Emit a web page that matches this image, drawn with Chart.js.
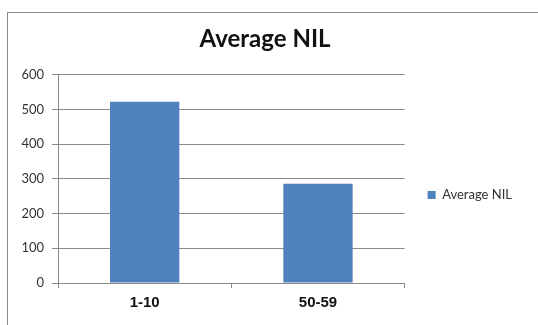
<!DOCTYPE html>
<html>
<head>
<meta charset="utf-8">
<script src="https://cdn.jsdelivr.net/npm/chart.js@4/dist/chart.umd.min.js"></script>
<style>
  html, body { margin: 0; padding: 0; background: #fff; }
  #wrap { position: relative; width: 538px; height: 325px; }
</style>
</head>
<body>
<div id="wrap"><canvas id="nilChart" width="538" height="325"></canvas></div>
<script>
var categories = ['1-10', '50-59'];
var averageNil = [522, 286];
var yTicks = [0, 100, 200, 300, 400, 500, 600];

var gridGray = '#8a8a8a';

// white sheet with the grey frame around the chart
var framePlugin = {
    id: 'frame',
    beforeDraw: function (chart) {
        var c = chart.ctx;
        c.save();
        c.fillStyle = '#fff';
        c.fillRect(0, 0, chart.width, chart.height);
        c.strokeStyle = '#8c8c8c';
        c.lineWidth = 1;
        c.strokeRect(7.5, 12.5, chart.width + 20, chart.height + 20);
        c.restore();
    }
};

var ctx = document.getElementById('nilChart').getContext('2d');
var myChart = new Chart(ctx, {
    type: 'bar',
    data: {
        labels: categories,
        datasets: [{
            label: 'Average NIL',
            data: averageNil,
            backgroundColor: '#4f81bd',
            borderWidth: 0,
            barPercentage: 1.0,
            categoryPercentage: 0.4
        }]
    },
    plugins: [framePlugin],
    options: {
        responsive: false,
        animation: false,
        layout: { padding: { left: 8, right: 16, top: 0, bottom: 7 } },
        plugins: {
            title: {
                display: true,
                text: 'Average NIL',
                color: '#111',
                font: { family: 'Lato', size: 24, weight: 'bold' },
                padding: { top: 25, bottom: 21 }
            },
            legend: {
                position: 'right',
                fullSize: false,
                title: { display: true, text: '', padding: { top: 19, bottom: 0 }, font: { size: 11 } },
                labels: {
                    boxWidth: 8,
                    boxHeight: 8,
                    padding: 23,
                    color: '#333',
                    font: { family: 'Lato', size: 13 }
                }
            },
            tooltip: { enabled: false }
        },
        scales: {
            x: {
                grid: {
                    offset: true,
                    drawOnChartArea: false,
                    drawTicks: true,
                    tickLength: 5,
                    color: gridGray
                },
                border: { color: gridGray },
                ticks: {
                    color: '#111',
                    padding: 6,
                    font: { family: 'Liberation Sans', size: 15, weight: 'bold' }
                }
            },
            y: {
                min: 0,
                max: 600,
                afterBuildTicks: function (scale) {
                    scale.ticks = yTicks.map(function (v) { return { value: v }; });
                },
                afterFit: function (scale) { scale.width = 50; },
                grid: { color: gridGray, tickLength: 6 },
                border: { color: gridGray },
                ticks: {
                    color: '#333',
                    padding: 8,
                    font: { family: 'Lato', size: 13 }
                }
            }
        }
    }
});
</script>
</body>
</html>
